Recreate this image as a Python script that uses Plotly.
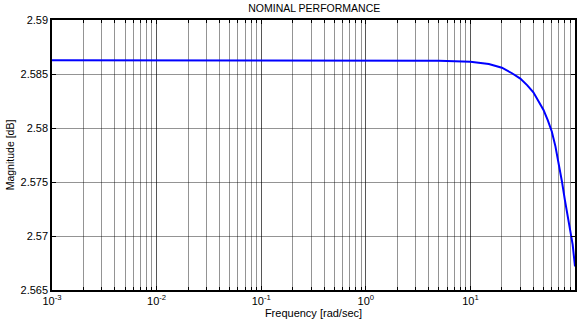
import plotly.graph_objects as go

# Nominal closed-loop magnitude response
freq_rad_s = [0.001, 0.01, 0.1, 1, 3, 5, 10, 15, 20, 25, 30, 35, 40, 45, 50,
              55, 60, 65, 70, 75, 80, 85, 90, 95, 100]
magnitude_db = [2.58627, 2.58627, 2.58627, 2.58627, 2.58626, 2.58623, 2.58614,
                2.58593, 2.58558, 2.58507, 2.58457, 2.58395, 2.58330, 2.58248,
                2.58167, 2.58070, 2.57968, 2.57830, 2.57676, 2.57505, 2.57335,
                2.57200, 2.57065, 2.56920, 2.56718]

x_ticks = [0.001, 0.01, 0.1, 1, 10, 100]
x_tick_text = ["10<sup>-3</sup>", "10<sup>-2</sup>", "10<sup>-1</sup>",
               "10<sup>0</sup>", "10<sup>1</sup>", "10<sup>2</sup>"]
y_ticks = [2.565, 2.57, 2.575, 2.58, 2.585, 2.59]
y_tick_text = ["2.565", "2.57", "2.575", "2.58", "2.585", "2.59"]

font_family = "Liberation Sans, Arial, sans-serif"
grid_col = "rgba(0,0,0,0.42)"

fig = go.Figure()
fig.add_trace(go.Scatter(
    x=freq_rad_s, y=magnitude_db, mode="lines",
    line=dict(color="#0000ff", width=2),
    showlegend=False,
))

fig.update_layout(
    width=582, height=326,
    margin=dict(l=52, r=5, t=20, b=36),
    paper_bgcolor="white", plot_bgcolor="white",
    font=dict(family=font_family, size=11, color="black"),
    title=dict(text="NOMINAL PERFORMANCE", x=0.54, xanchor="center",
               y=0.975, yanchor="middle", font=dict(size=10.5)),
)

fig.update_xaxes(
    type="log", range=[-3, 2], tickvals=x_ticks, ticktext=x_tick_text,
    showline=True, linecolor="black", linewidth=1.5, mirror="ticks",
    ticks="inside", ticklen=4, tickcolor="black",
    showgrid=True, gridcolor=grid_col, gridwidth=1,
    minor=dict(dtick="D1", showgrid=True, gridcolor=grid_col, gridwidth=1,
               ticks="inside", ticklen=3, tickcolor="black"),
    title=dict(text="Frequency [rad/sec]", standoff=2, font=dict(size=11)),
    zeroline=False, tickfont=dict(size=11),
)

fig.update_yaxes(
    range=[2.565, 2.59], tickvals=y_ticks, ticktext=y_tick_text,
    showline=True, linecolor="black", linewidth=1.5, mirror="ticks",
    ticks="inside", ticklen=4, tickcolor="black",
    showgrid=True, gridcolor=grid_col, gridwidth=1,
    title=dict(text="Magnitude [dB]", standoff=4, font=dict(size=10.5)),
    zeroline=False, tickfont=dict(size=11),
)

fig.write_html("out.html")
